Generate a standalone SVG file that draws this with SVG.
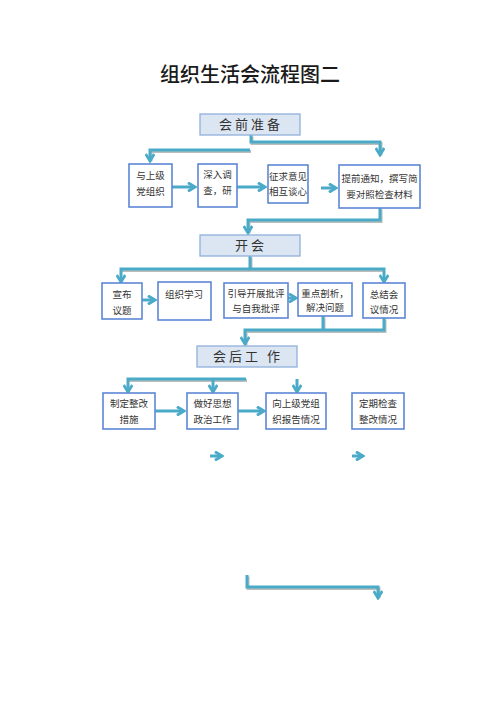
<svg xmlns="http://www.w3.org/2000/svg" width="500" height="707" viewBox="0 0 500 707">
<style>
.title{font-family:"Noto Sans CJK SC","Noto Sans",sans-serif;font-size:20px;font-weight:500;fill:#1a1a1a;text-anchor:middle}
.hdr{fill:#dce6f2;stroke:#8fb0dc;stroke-width:1.3}
.htx{font-family:"Noto Sans CJK SC",sans-serif;font-size:13px;fill:#333;text-anchor:middle;letter-spacing:3px}
.box{fill:#fff;stroke:#5d87d6;stroke-width:1.6}
.tx{font-family:"Noto Sans CJK SC",sans-serif;font-size:9.5px;fill:#333;text-anchor:middle}
.ln{fill:none;stroke:#4aabc8;stroke-width:3}
.sh{fill:none;stroke:#bdbdbd;stroke-width:3}
</style>
<defs>
<marker id="ah" viewBox="0 0 10 10" refX="8" refY="5" markerWidth="3.6" markerHeight="3.6" orient="auto" markerUnits="strokeWidth">
<path d="M1.5,1 L8,5 L1.5,9" fill="none" stroke="#4aabc8" stroke-width="2.6"/>
</marker>
</defs>
<text class="title" x="250" y="82">组织生活会流程图二</text>

<g id="connectors">
<g transform="translate(1,1.5)">
<path class="sh" d="M251,135 V142 H380 V154"/>
<path class="sh" d="M250,150 H150 V160"/>
<path class="sh" d="M380,208 V220 H248 V232"/>
<path class="sh" d="M250,256 V269 M121,269 H384"/>
<path class="sh" d="M323,316 V330 M384,318 V330 H245 V344"/>
<path class="sh" d="M128,379 H246"/>
<path class="sh" d="M247,575 V587 H378 V597"/>
</g>
<path class="ln" d="M251,135 V142 H380 V155" marker-end="url(#ah)"/>
<path class="ln" d="M250,150 H150 V161" marker-end="url(#ah)"/>
<path class="ln" d="M172,187 H195" marker-end="url(#ah)"/>
<path class="ln" d="M237,187 H265" marker-end="url(#ah)"/>
<path class="ln" d="M321,188 H336" marker-end="url(#ah)"/>
<path class="ln" d="M380,208 V220 H248 V233" marker-end="url(#ah)"/>
<path class="ln" d="M250,256 V269"/>
<path class="ln" d="M250,269 H121 V282" marker-end="url(#ah)"/>
<path class="ln" d="M250,269 H384 V282" marker-end="url(#ah)"/>
<path class="ln" d="M142,300 H155" marker-end="url(#ah)"/>
<path class="ln" d="M288,298 H296" marker-end="url(#ah)"/>
<path class="ln" d="M323,316 V330"/>
<path class="ln" d="M384,318 V330 H245 V344" marker-end="url(#ah)"/>
<path class="ln" d="M246,379 H128 V392" marker-end="url(#ah)"/>
<path class="ln" d="M213,379 V392" marker-end="url(#ah)"/>
<path class="ln" d="M297,379 V392" marker-end="url(#ah)"/>
<path class="ln" d="M155,411 H184" marker-end="url(#ah)"/>
<path class="ln" d="M238,411 H264" marker-end="url(#ah)"/>
<path class="ln" d="M210,456 H222" marker-end="url(#ah)"/>
<path class="ln" d="M352,456 H363" marker-end="url(#ah)"/>
<path class="ln" d="M247,575 V587 H378 V598" marker-end="url(#ah)"/>
</g>

<g id="h1"><rect class="hdr" x="200" y="114" width="100" height="21"/><text class="htx" x="251" y="129">会前准备</text></g>
<g id="h2"><rect class="hdr" x="200" y="235" width="100" height="21"/><text class="htx" x="251" y="250">开会</text></g>
<g id="h3"><rect class="hdr" x="197" y="346" width="100" height="21"/><text class="htx" x="248" y="361">会后工 作</text></g>

<g id="n1"><rect class="box" x="129" y="164" width="43" height="43"/><text class="tx" x="150.5" y="179">与上级</text><text class="tx" x="150.5" y="195">党组织</text></g>
<g id="n2"><rect class="box" x="198" y="164" width="39" height="43"/><text class="tx" x="217.5" y="178">深入调</text><text class="tx" x="217.5" y="194">查，研</text></g>
<g id="n3"><rect class="box" x="268" y="165" width="40" height="38"/><text class="tx" x="288" y="180">征求意见</text><text class="tx" x="288" y="195">相互谈心</text></g>
<g id="n4"><rect class="box" x="339" y="165" width="81" height="43"/><text class="tx" x="379.5" y="182">提前通知，撰写简</text><text class="tx" x="379.5" y="198">要对照检查材料</text></g>

<g id="n5"><rect class="box" x="102" y="283" width="40" height="36"/><text class="tx" x="122" y="298">宣布</text><text class="tx" x="122" y="314">议题</text></g>
<g id="n6"><rect class="box" x="158" y="282" width="53" height="38"/><text class="tx" x="184" y="298">组织学习</text></g>
<g id="n7"><rect class="box" x="224" y="283" width="64" height="35"/><text class="tx" x="256" y="297">引导开展批评</text><text class="tx" x="256" y="312">与自我批评</text></g>
<g id="n8"><rect class="box" x="298" y="283" width="54" height="33"/><text class="tx" x="325" y="297">重点剖析，</text><text class="tx" x="325" y="311">解决问题</text></g>
<g id="n9"><rect class="box" x="363" y="283" width="42" height="35"/><text class="tx" x="384" y="298">总结会</text><text class="tx" x="384" y="313">议情况</text></g>

<g id="n10"><rect class="box" x="103" y="393" width="52" height="36"/><text class="tx" x="129" y="407">制定整改</text><text class="tx" x="129" y="423">措施</text></g>
<g id="n11"><rect class="box" x="187" y="393" width="51" height="36"/><text class="tx" x="212.5" y="407">做好思想</text><text class="tx" x="212.5" y="423">政治工作</text></g>
<g id="n12"><rect class="box" x="266" y="393" width="60" height="36"/><text class="tx" x="296" y="407">向上级党组</text><text class="tx" x="296" y="423">织报告情况</text></g>
<g id="n13"><rect class="box" x="352" y="393" width="52" height="36"/><text class="tx" x="378" y="407">定期检查</text><text class="tx" x="378" y="423">整改情况</text></g>
</svg>
